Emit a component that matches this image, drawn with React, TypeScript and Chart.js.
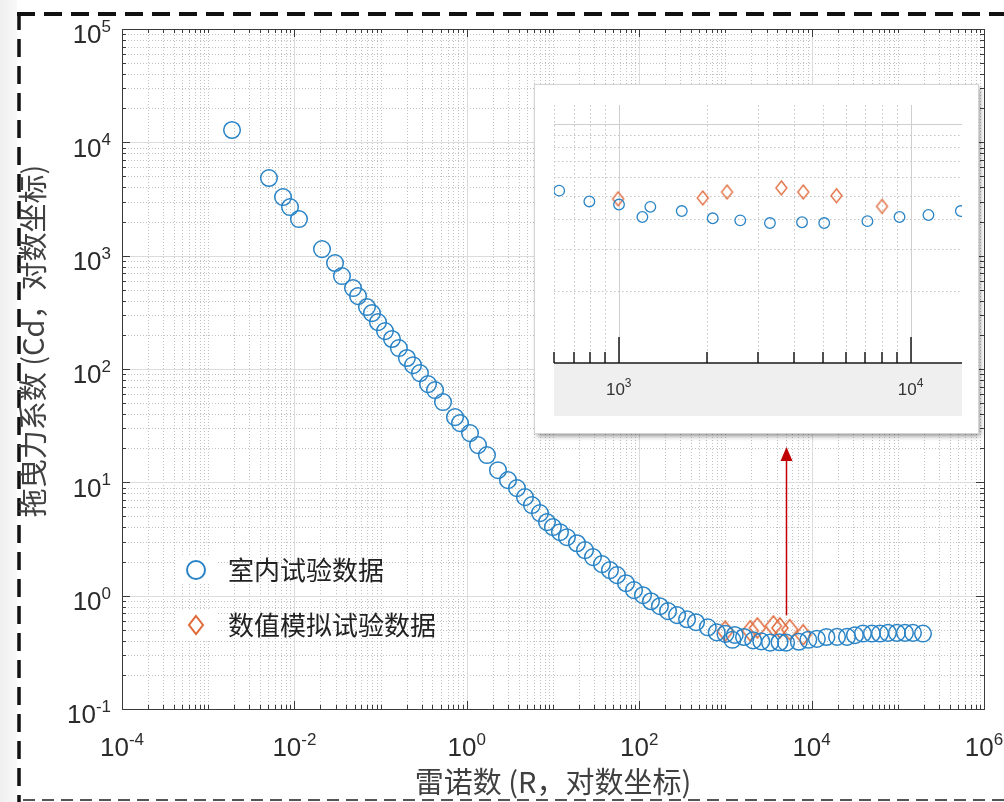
import React, { useEffect, useRef } from 'react';
import { Chart, registerables } from 'chart.js';

Chart.register(...registerables);

// ---------------- data ----------------
const labReynolds = [
  0.00189, 0.00507, 0.00738, 0.00889, 0.0113, 0.0209, 0.0296, 0.0356, 0.0479, 0.0547,
  0.0695, 0.0794, 0.0933, 0.1125, 0.1355, 0.163, 0.202, 0.238, 0.286, 0.355,
  0.428, 0.53, 0.73, 0.834, 1.089, 1.349, 1.714, 2.301, 3.006, 3.819,
  4.73, 5.7, 7.06, 8.51, 9.98, 12.05, 14.5, 18.97, 23.5, 29.1, 37.0,
  45.8, 55.2, 70.3, 87.1, 110.7, 137, 174, 216, 275, 359,
  456, 625, 793, 1002, 1205, 1283, 1644, 2099, 2608, 3296,
  4246, 5058, 7112, 9162, 11510, 14860, 19720, 25760, 31840, 39450,
  50120, 62090, 76910, 97720, 121100, 150000, 195900,
];
const labCd = [
  12850, 4842, 3289, 2685, 2104, 1143, 861, 661, 518, 440,
  352, 311, 259, 216, 184, 153, 125, 108, 92, 73.6,
  65.2, 51.1, 37.6, 33.3, 27.2, 21.3, 17.4, 12.8, 10.45, 8.89,
  7.4, 6.3, 5.35, 4.46, 4.03, 3.63, 3.28, 2.9, 2.52, 2.19, 1.897,
  1.679, 1.517, 1.288, 1.119, 1.009, 0.893, 0.807, 0.73, 0.673, 0.619,
  0.583, 0.526, 0.474, 0.46, 0.408, 0.45, 0.432, 0.403, 0.395, 0.385,
  0.388, 0.385, 0.392, 0.408, 0.416, 0.432, 0.433, 0.433, 0.448, 0.463,
  0.463, 0.463, 0.47, 0.47, 0.47, 0.47, 0.463,
];
const simReynolds = [995, 1941, 2350, 3607, 4286, 5571, 7980];
const simCd = [0.486, 0.49, 0.519, 0.54, 0.519, 0.501, 0.452];

const xLabelExponents = [-4, -2, 0, 2, 4, 6];
const yLabelExponents = [-1, 0, 1, 2, 3, 4, 5];
const insetLabelExponents = [3, 4];
const legendLabels = ['室内试验数据', '数值模拟试验数据'];
const xTitle = '雷诺数 (R，对数坐标)';
const yTitle = '拖曳力系数 (Cd，对数坐标)';
const arrowRe = 5000;
const arrowFromCd = 0.67;
const arrowToCd = 20.5;

// ---------------- style ----------------
const BLUE = '#2a84c6';
const ORANGE = '#e0693a';
const FONT_NUM = '"Liberation Sans", Arial, Helvetica, sans-serif';
const FONT_CJK = '"Noto Sans CJK SC", "Noto Sans", sans-serif';

function decadeMinors(lo: number, hi: number): number[] {
  const out: number[] = [];
  for (let e = lo; e < hi; e++) for (let k = 2; k <= 9; k++) out.push(k * Math.pow(10, e));
  return out;
}
function decades(lo: number, hi: number): number[] {
  const out: number[] = [];
  for (let e = lo; e <= hi; e++) out.push(Math.pow(10, e));
  return out;
}
const crisp = (v: number) => Math.round(v) + 0.5;

function drawPower(ctx: CanvasRenderingContext2D, exp: number, x: number, y: number, align: 'center' | 'right', baseSize: number, supSize: number, color: string) {
  const base = '10';
  const sup = String(exp);
  ctx.save();
  ctx.fillStyle = color;
  ctx.textAlign = 'left';
  ctx.textBaseline = 'alphabetic';
  ctx.font = `${baseSize}px ${FONT_NUM}`;
  const bw = ctx.measureText(base).width;
  ctx.font = `${supSize}px ${FONT_NUM}`;
  const sw = ctx.measureText(sup).width;
  const total = bw + sw;
  const left = align === 'center' ? x - total / 2 : x - total;
  ctx.font = `${baseSize}px ${FONT_NUM}`;
  ctx.fillText(base, left, y + baseSize * 0.358);
  ctx.font = `${supSize}px ${FONT_NUM}`;
  ctx.fillText(sup, left + bw, y - 2);
  ctx.restore();
}

function makeDiamond(w: number, h: number, lw: number, color: string): HTMLCanvasElement {
  const c = document.createElement('canvas');
  const pad = Math.ceil(lw);
  c.width = w + pad * 2;
  c.height = h + pad * 2;
  const g = c.getContext('2d')!;
  g.strokeStyle = color;
  g.lineWidth = lw;
  g.beginPath();
  g.moveTo(pad + w / 2, pad);
  g.lineTo(pad + w, pad + h / 2);
  g.lineTo(pad + w / 2, pad + h);
  g.lineTo(pad, pad + h / 2);
  g.closePath();
  g.stroke();
  return c;
}

const mainDecor = {
  id: 'mainDecor',
  beforeDraw(chart: any) {
    const ctx: CanvasRenderingContext2D = chart.ctx;
    ctx.save();
    const grad = ctx.createLinearGradient(0, 0, 17, 0);
    grad.addColorStop(0, '#efefef');
    grad.addColorStop(1, '#f8f8f8');
    ctx.fillStyle = grad;
    ctx.fillRect(0, 0, 17, chart.height);
    ctx.strokeStyle = '#111';
    ctx.setLineDash([18, 9]);
    ctx.lineWidth = 4;
    ctx.beginPath();
    ctx.moveTo(17, 14);
    ctx.lineTo(chart.width, 14);
    ctx.stroke();
    ctx.lineWidth = 3.5;
    ctx.beginPath();
    ctx.moveTo(19, 12);
    ctx.lineTo(19, chart.height);
    ctx.stroke();
    ctx.strokeStyle = '#555';
    ctx.lineWidth = 2;
    ctx.setLineDash([12, 7]);
    ctx.beginPath();
    ctx.moveTo(23, 800);
    ctx.lineTo(chart.width, 800);
    ctx.stroke();
    ctx.restore();
  },
  beforeDatasetsDraw(chart: any) {
    const ctx: CanvasRenderingContext2D = chart.ctx;
    const a = chart.chartArea;
    const xs = chart.scales.x;
    const ys = chart.scales.y;
    const xMajors = xLabelExponents.map((e) => Math.pow(10, e));
    const xMinors = [...decadeMinors(-4, 6), ...decades(-4, 6).filter((v) => !xMajors.includes(v))];
    const yMinors = decadeMinors(-1, 5);
    const yMajors = decades(-1, 5);
    ctx.save();
    ctx.lineWidth = 1;
    ctx.strokeStyle = '#c2c2c2';
    ctx.setLineDash([1, 2]);
    for (const v of xMinors) {
      const p = crisp(xs.getPixelForValue(v));
      if (p <= a.left + 1 || p >= a.right - 1) continue;
      ctx.beginPath(); ctx.moveTo(p, a.top); ctx.lineTo(p, a.bottom); ctx.stroke();
    }
    for (const v of yMinors) {
      const p = crisp(ys.getPixelForValue(v));
      if (p <= a.top + 1 || p >= a.bottom - 1) continue;
      ctx.beginPath(); ctx.moveTo(a.left, p); ctx.lineTo(a.right, p); ctx.stroke();
    }
    ctx.setLineDash([]);
    ctx.strokeStyle = '#dcdcdc';
    for (const v of xMajors) {
      const p = crisp(xs.getPixelForValue(v));
      ctx.beginPath(); ctx.moveTo(p, a.top); ctx.lineTo(p, a.bottom); ctx.stroke();
    }
    for (const v of yMajors) {
      const p = crisp(ys.getPixelForValue(v));
      ctx.beginPath(); ctx.moveTo(a.left, p); ctx.lineTo(a.right, p); ctx.stroke();
    }
    ctx.restore();
  },
  afterDatasetsDraw(chart: any) {
    const ctx: CanvasRenderingContext2D = chart.ctx;
    const a = chart.chartArea;
    const xs = chart.scales.x;
    const ys = chart.scales.y;
    const xMajors = xLabelExponents.map((e) => Math.pow(10, e));
    const xMinors = [...decadeMinors(-4, 6), ...decades(-4, 6).filter((v) => !xMajors.includes(v))];
    const yMinors = decadeMinors(-1, 5);
    const yMajors = decades(-1, 5);
    ctx.save();
    // box
    ctx.strokeStyle = '#3a3a3a';
    ctx.lineWidth = 1;
    ctx.strokeRect(crisp(a.left), crisp(a.top), Math.round(a.right - a.left), Math.round(a.bottom - a.top));
    // ticks
    const tick = (vals: number[], len: number, axis: 'x' | 'y') => {
      for (const v of vals) {
        if (axis === 'x') {
          const p = crisp(xs.getPixelForValue(v));
          ctx.beginPath(); ctx.moveTo(p, a.bottom); ctx.lineTo(p, a.bottom - len); ctx.stroke();
          ctx.beginPath(); ctx.moveTo(p, a.top); ctx.lineTo(p, a.top + len); ctx.stroke();
        } else {
          const p = crisp(ys.getPixelForValue(v));
          ctx.beginPath(); ctx.moveTo(a.left, p); ctx.lineTo(a.left + len, p); ctx.stroke();
          ctx.beginPath(); ctx.moveTo(a.right, p); ctx.lineTo(a.right - len, p); ctx.stroke();
        }
      }
    };
    tick(xMajors, 8, 'x');
    tick(xMinors, 4, 'x');
    tick(yMajors, 8, 'y');
    tick(yMinors, 4, 'y');
    // tick labels
    for (const e of xLabelExponents) {
      drawPower(ctx, e, xs.getPixelForValue(Math.pow(10, e)), 747, 'center', 26, 17, '#2b2b2b');
    }
    for (const e of yLabelExponents) {
      drawPower(ctx, e, 111, ys.getPixelForValue(Math.pow(10, e)) + 5, 'right', 26, 17, '#2b2b2b');
    }
    // titles
    ctx.fillStyle = '#404040';
    ctx.font = `29px ${FONT_CJK}`;
    ctx.textAlign = 'center';
    ctx.textBaseline = 'middle';
    ctx.fillText(xTitle, 553, 782);
    ctx.save();
    ctx.translate(33, 341);
    ctx.rotate(-Math.PI / 2);
    ctx.fillText(yTitle, 0, 0);
    ctx.restore();
    // legend
    ctx.fillStyle = '#ffffff';
    ctx.fillRect(176, 556, 40, 28);
    ctx.fillRect(176, 611, 40, 28);
    ctx.strokeStyle = BLUE;
    ctx.lineWidth = 2;
    ctx.beginPath();
    ctx.arc(196, 570, 9, 0, Math.PI * 2);
    ctx.stroke();
    ctx.strokeStyle = ORANGE;
    ctx.beginPath();
    ctx.moveTo(196, 616); ctx.lineTo(203, 625); ctx.lineTo(196, 634); ctx.lineTo(189, 625);
    ctx.closePath();
    ctx.stroke();
    ctx.fillStyle = '#222';
    ctx.font = `26px ${FONT_CJK}`;
    ctx.textAlign = 'left';
    ctx.textBaseline = 'middle';
    ctx.fillText(legendLabels[0], 228, 570);
    ctx.fillText(legendLabels[1], 228, 625);
    // arrow
    const ax = Math.round(xs.getPixelForValue(arrowRe)) + 0.5;
    const ay1 = ys.getPixelForValue(arrowFromCd);
    const ay2 = ys.getPixelForValue(arrowToCd);
    ctx.strokeStyle = '#c00000';
    ctx.fillStyle = '#c00000';
    ctx.lineWidth = 1.5;
    ctx.beginPath(); ctx.moveTo(ax, ay1); ctx.lineTo(ax, ay2 + 12); ctx.stroke();
    ctx.beginPath();
    ctx.moveTo(ax, ay2); ctx.lineTo(ax + 6, ay2 + 14); ctx.lineTo(ax - 6, ay2 + 14);
    ctx.closePath();
    ctx.fill();
    ctx.restore();
  },
};

const insetDecor = {
  id: 'insetDecor',
  beforeDatasetsDraw(chart: any) {
    const ctx: CanvasRenderingContext2D = chart.ctx;
    const a = chart.chartArea;
    const xs = chart.scales.x;
    const ys = chart.scales.y;
    ctx.save();
    ctx.fillStyle = '#efefef';
    ctx.fillRect(a.left, a.bottom, a.right - a.left, 53);
    const xMinors = [600, 700, 800, 900, ...decadeMinors(3, 4)];
    const yMinors = decadeMinors(-1, 0);
    ctx.lineWidth = 1;
    ctx.strokeStyle = '#c4c4c4';
    ctx.setLineDash([1.5, 2.5]);
    for (const v of xMinors) {
      const p = crisp(xs.getPixelForValue(v));
      ctx.beginPath(); ctx.moveTo(p, a.top); ctx.lineTo(p, a.bottom); ctx.stroke();
    }
    for (const v of yMinors) {
      const p = crisp(ys.getPixelForValue(v));
      ctx.beginPath(); ctx.moveTo(a.left, p); ctx.lineTo(a.right, p); ctx.stroke();
    }
    ctx.setLineDash([]);
    ctx.strokeStyle = '#cfcfcf';
    for (const v of [1000, 10000]) {
      const p = crisp(xs.getPixelForValue(v));
      ctx.beginPath(); ctx.moveTo(p, a.top); ctx.lineTo(p, a.bottom); ctx.stroke();
    }
    const p1 = crisp(ys.getPixelForValue(1));
    ctx.beginPath(); ctx.moveTo(a.left, p1); ctx.lineTo(a.right, p1); ctx.stroke();
    ctx.restore();
  },
  afterDatasetsDraw(chart: any) {
    const ctx: CanvasRenderingContext2D = chart.ctx;
    const a = chart.chartArea;
    const xs = chart.scales.x;
    ctx.save();
    ctx.strokeStyle = '#1a1a1a';
    ctx.lineWidth = 1.5;
    ctx.beginPath(); ctx.moveTo(a.left, a.bottom); ctx.lineTo(a.right, a.bottom); ctx.stroke();
    const xMinors = [600, 700, 800, 900, ...decadeMinors(3, 4)];
    for (const v of xMinors) {
      const p = Math.round(xs.getPixelForValue(v));
      ctx.beginPath(); ctx.moveTo(p, a.bottom); ctx.lineTo(p, a.bottom - 11); ctx.stroke();
    }
    for (const v of [1000, 10000]) {
      const p = Math.round(xs.getPixelForValue(v));
      ctx.beginPath(); ctx.moveTo(p, a.bottom); ctx.lineTo(p, a.bottom - 26); ctx.stroke();
    }
    for (const e of insetLabelExponents) {
      drawPower(ctx, e, xs.getPixelForValue(Math.pow(10, e)), a.bottom + 26, 'center', 17, 12, '#333');
    }
    ctx.restore();
  },
};

export default function App() {
  const mainRef = useRef<HTMLCanvasElement>(null);
  const insetRef = useRef<HTMLCanvasElement>(null);

  useEffect(() => {
    const labPoints = labReynolds.map((x, i) => ({ x, y: labCd[i] }));
    const simPoints = simReynolds.map((x, i) => ({ x, y: simCd[i] }));
    const bigDiamond = makeDiamond(16, 20, 1.5, ORANGE);
    const smallDiamond = makeDiamond(11, 14, 1.3, ORANGE);

    const main = new Chart(mainRef.current!, {
      type: 'scatter',
      data: {
        datasets: [
          {
            label: legendLabels[0],
            data: labPoints,
            pointStyle: 'circle',
            pointRadius: 8.3,
            pointBorderWidth: 1.5,
            borderColor: BLUE,
            backgroundColor: 'rgba(0,0,0,0)',
            pointBackgroundColor: 'rgba(0,0,0,0)',
            pointBorderColor: BLUE,
          },
          {
            label: legendLabels[1],
            data: simPoints,
            pointStyle: bigDiamond as any,
            pointRadius: 10,
            borderColor: ORANGE,
            backgroundColor: 'rgba(0,0,0,0)',
          },
        ],
      },
      options: {
        animation: false,
        responsive: false,
        events: [],
        layout: { padding: { left: 122, top: 29, right: 20, bottom: 93 } },
        scales: {
          x: { type: 'logarithmic', min: 1e-4, max: 1e6, display: false },
          y: { type: 'logarithmic', min: 0.1, max: 1e5, display: false },
        },
        plugins: { legend: { display: false }, tooltip: { enabled: false }, title: { display: false } },
      },
      plugins: [mainDecor],
    } as any);

    const inset = new Chart(insetRef.current!, {
      type: 'scatter',
      data: {
        datasets: [
          {
            data: labPoints,
            pointStyle: 'circle',
            pointRadius: 5.3,
            pointBorderWidth: 1.3,
            pointBorderColor: BLUE,
            pointBackgroundColor: 'rgba(0,0,0,0)',
            clip: 0,
          },
          {
            data: simPoints,
            pointStyle: smallDiamond as any,
            pointRadius: 7,
            clip: 0,
          },
        ],
      },
      options: {
        animation: false,
        responsive: false,
        events: [],
        layout: { padding: { left: 19, top: 20, right: 16, bottom: 70 } },
        scales: {
          x: { type: 'logarithmic', min: 600, max: 15000, display: false },
          y: { type: 'logarithmic', min: 0.1, max: 1.2, display: false },
        },
        plugins: { legend: { display: false }, tooltip: { enabled: false } },
      },
      plugins: [insetDecor],
    } as any);

    return () => {
      main.destroy();
      inset.destroy();
    };
  }, []);

  return (
    <div style={{ position: 'absolute', left: 0, top: 0, width: 1004, height: 802, background: '#fff', overflow: 'hidden' }}>
      <canvas ref={mainRef} width={1004} height={802} style={{ position: 'absolute', left: 0, top: 0, width: 1004, height: 802 }} />
      <div
        style={{
          position: 'absolute',
          left: 535,
          top: 85,
          width: 443,
          height: 348,
          background: '#fff',
          boxShadow: '0 0 0 1px #d4d4d4, 2px 3px 5px rgba(0,0,0,0.45)',
        }}
      >
        <canvas ref={insetRef} width={443} height={348} style={{ position: 'absolute', left: 0, top: 0, width: 443, height: 348 }} />
      </div>
    </div>
  );
}
